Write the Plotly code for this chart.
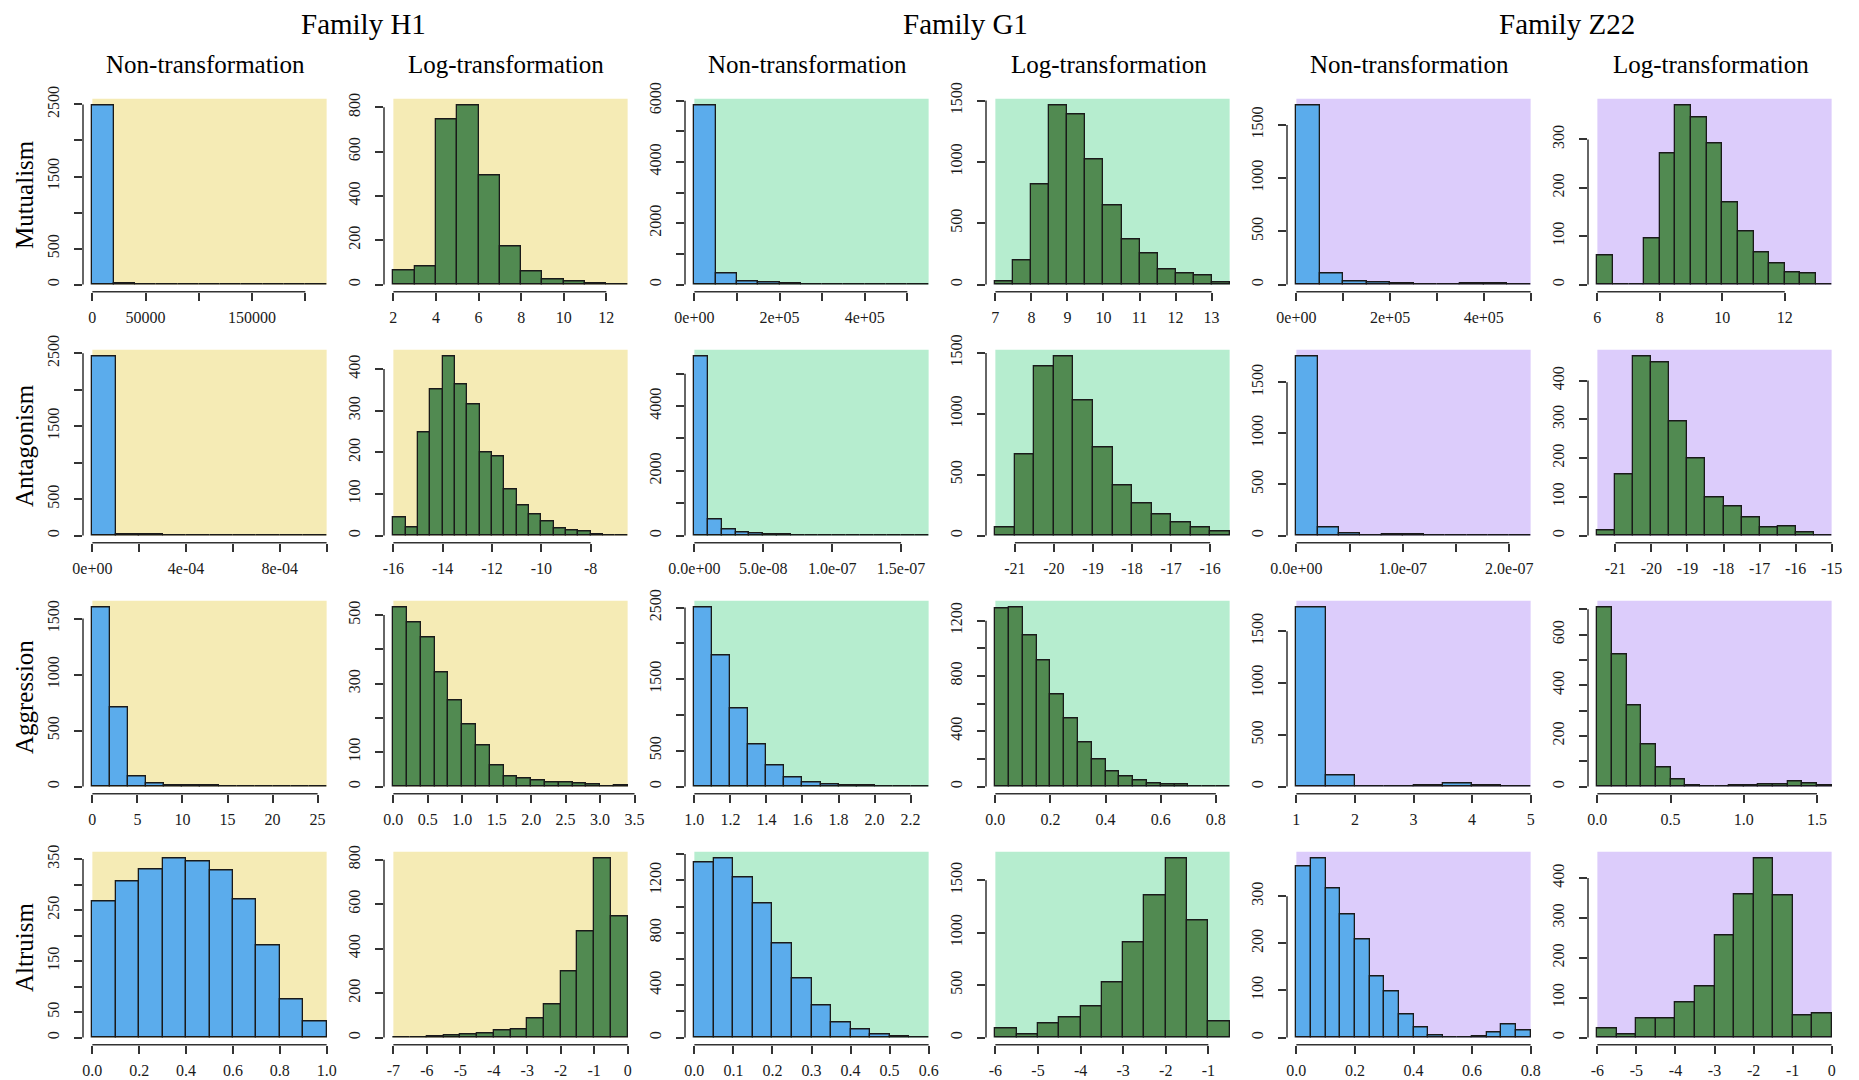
import numpy as np
import plotly.graph_objects as go

FONT = "Liberation Serif"
PAGE_OFFSET = 8            # the page body adds an 8 px margin around the figure
FIG_W, FIG_H = 1859 - PAGE_OFFSET, 1080 - PAGE_OFFSET

FAMILIES = ["Family H1", "Family G1", "Family Z22"]
TRANSFORMS = ["Non-transformation", "Log-transformation"]
INTERACTIONS = ["Mutualism", "Antagonism", "Aggression", "Altruism"]

FAMILY_BG = ["#F5EBB5", "#B6EDCF", "#DCCCFB"]
BAR_COLORS = ["#5BACEC", "#518A51"]   # non-transformed, log-transformed

# ---------------- data: counts, [first break, bin width], ticks ----------------
# Mutualism
mut_h1_non = [2485, 12, 3, 2, 1, 1, 0, 1, 0, 0, 1]
mut_h1_non_bins = [0, 20000]
mut_h1_non_xt = [0, 50000, 100000, 150000, 200000]
mut_h1_non_xl = ["0", "50000", "", "150000", ""]
mut_h1_non_yt = [0, 500, 1000, 1500, 2000, 2500]
mut_h1_non_yl = ["0", "500", "", "1500", "", "2500"]

mut_h1_log = [66, 82, 747, 808, 494, 171, 59, 24, 14, 3, 1]
mut_h1_log_bins = [2, 1]
mut_h1_log_xt = [2, 4, 6, 8, 10, 12]
mut_h1_log_xl = ["2", "4", "6", "8", "10", "12"]
mut_h1_log_yt = [0, 200, 400, 600, 800]
mut_h1_log_yl = ["0", "200", "400", "600", "800"]

mut_g1_non = [5840, 360, 100, 75, 30, 15, 10, 20, 8, 5, 3]
mut_g1_non_bins = [0, 50000]
mut_g1_non_xt = [0, 100000, 200000, 300000, 400000, 500000]
mut_g1_non_xl = ["0e+00", "", "2e+05", "", "4e+05", ""]
mut_g1_non_yt = [0, 1000, 2000, 3000, 4000, 5000, 6000]
mut_g1_non_yl = ["0", "", "2000", "", "4000", "", "6000"]

mut_g1_log = [27, 199, 818, 1459, 1383, 1017, 649, 371, 251, 120, 93, 76, 16]
mut_g1_log_bins = [7, 0.5]
mut_g1_log_xt = [7, 8, 9, 10, 11, 12, 13]
mut_g1_log_xl = ["7", "8", "9", "10", "11", "12", "13"]
mut_g1_log_yt = [0, 500, 1000, 1500]
mut_g1_log_yl = ["0", "500", "1000", "1500"]

mut_z22_non = [1682, 107, 31, 22, 9, 3, 3, 9, 9, 2]
mut_z22_non_bins = [0, 50000]
mut_z22_non_xt = [0, 100000, 200000, 300000, 400000, 500000]
mut_z22_non_xl = ["0e+00", "", "2e+05", "", "4e+05", ""]
mut_z22_non_yt = [0, 500, 1000, 1500]
mut_z22_non_yl = ["0", "500", "1000", "1500"]

mut_z22_log = [61, 0, 0, 95, 272, 370, 346, 292, 169, 109, 66, 44, 26, 24, 1]
mut_z22_log_bins = [6, 0.5]
mut_z22_log_xt = [6, 8, 10, 12]
mut_z22_log_xl = ["6", "8", "10", "12"]
mut_z22_log_yt = [0, 100, 200, 300]
mut_z22_log_yl = ["0", "100", "200", "300"]

# Antagonism
ant_h1_non = [2455, 20, 12, 4, 2, 1, 1, 0, 0, 1]
ant_h1_non_bins = [0, 1e-4]
ant_h1_non_xt = [0, 2e-4, 4e-4, 6e-4, 8e-4, 1e-3]
ant_h1_non_xl = ["0e+00", "", "4e-04", "", "8e-04", ""]
ant_h1_non_yt = [0, 500, 1000, 1500, 2000, 2500]
ant_h1_non_yl = ["0", "500", "", "1500", "", "2500"]

ant_h1_log = [44, 19, 249, 351, 430, 364, 314, 200, 189, 110, 72, 50, 35, 17, 12, 9, 2, 1, 1]
ant_h1_log_bins = [-16, 0.5]
ant_h1_log_xt = [-16, -14, -12, -10, -8]
ant_h1_log_xl = ["-16", "-14", "-12", "-10", "-8"]
ant_h1_log_yt = [0, 100, 200, 300, 400]
ant_h1_log_yl = ["0", "100", "200", "300", "400"]

ant_g1_non = [5530, 500, 175, 85, 55, 45, 25, 18, 12, 8, 15, 6, 5, 4, 3, 2, 2]
ant_g1_non_bins = [0, 1e-8]
ant_g1_non_xt = [0, 5e-8, 1e-7, 1.5e-7]
ant_g1_non_xl = ["0.0e+00", "5.0e-08", "1.0e-07", "1.5e-07"]
ant_g1_non_yt = [0, 1000, 2000, 3000, 4000, 5000]
ant_g1_non_yl = ["0", "", "2000", "", "4000", ""]

ant_g1_log = [63, 668, 1390, 1470, 1110, 728, 412, 264, 173, 104, 69, 33]
ant_g1_log_bins = [-21.5, 0.5]
ant_g1_log_xt = [-21, -20, -19, -18, -17, -16]
ant_g1_log_xl = ["-21", "-20", "-19", "-18", "-17", "-16"]
ant_g1_log_yt = [0, 500, 1000, 1500]
ant_g1_log_yl = ["0", "500", "1000", "1500"]

ant_z22_non = [1752, 75, 23, 6, 12, 15, 5, 2, 2, 1, 1]
ant_z22_non_bins = [0, 2e-8]
ant_z22_non_xt = [0, 5e-8, 1e-7, 1.5e-7, 2e-7]
ant_z22_non_xl = ["0.0e+00", "", "1.0e-07", "", "2.0e-07"]
ant_z22_non_yt = [0, 500, 1000, 1500]
ant_z22_non_yl = ["0", "500", "1000", "1500"]

ant_z22_log = [13, 158, 462, 447, 295, 199, 99, 76, 46, 22, 23, 8, 1]
ant_z22_log_bins = [-21.5, 0.5]
ant_z22_log_xt = [-21, -20, -19, -18, -17, -16, -15]
ant_z22_log_xl = ["-21", "-20", "-19", "-18", "-17", "-16", "-15"]
ant_z22_log_yt = [0, 100, 200, 300, 400]
ant_z22_log_yl = ["0", "100", "200", "300", "400"]

# Aggression
agg_h1_non = [1598, 708, 90, 30, 12, 9, 6, 5, 3, 2, 1, 1, 1]
agg_h1_non_bins = [0, 2]
agg_h1_non_xt = [0, 5, 10, 15, 20, 25]
agg_h1_non_xl = ["0", "5", "10", "15", "20", "25"]
agg_h1_non_yt = [0, 500, 1000, 1500]
agg_h1_non_yl = ["0", "500", "1000", "1500"]

agg_h1_log = [522, 478, 434, 334, 250, 182, 121, 61, 30, 24, 17, 11, 13, 10, 7, 1, 2]
agg_h1_log_bins = [0, 0.2]
agg_h1_log_xt = [0, 0.5, 1.0, 1.5, 2.0, 2.5, 3.0, 3.5]
agg_h1_log_xl = ["0.0", "0.5", "1.0", "1.5", "2.0", "2.5", "3.0", "3.5"]
agg_h1_log_yt = [0, 100, 200, 300, 400, 500]
agg_h1_log_yl = ["0", "100", "", "300", "", "500"]

agg_g1_non = [2500, 1832, 1098, 589, 299, 131, 56, 33, 14, 14, 5, 2, 2]
agg_g1_non_bins = [1.0, 0.1]
agg_g1_non_xt = [1.0, 1.2, 1.4, 1.6, 1.8, 2.0, 2.2]
agg_g1_non_xl = ["1.0", "1.2", "1.4", "1.6", "1.8", "2.0", "2.2"]
agg_g1_non_yt = [0, 500, 1000, 1500, 2000, 2500]
agg_g1_non_yl = ["0", "500", "", "1500", "", "2500"]

agg_g1_log = [1292, 1295, 1091, 915, 669, 493, 319, 198, 109, 70, 46, 24, 17, 12, 2, 2, 1]
agg_g1_log_bins = [0, 0.05]
agg_g1_log_xt = [0, 0.2, 0.4, 0.6, 0.8]
agg_g1_log_xl = ["0.0", "0.2", "0.4", "0.6", "0.8"]
agg_g1_log_yt = [0, 200, 400, 600, 800, 1000, 1200]
agg_g1_log_yl = ["0", "", "400", "", "800", "", "1200"]

agg_z22_non = [1730, 103, 1, 6, 10, 26, 13, 3]
agg_z22_non_bins = [1, 0.5]
agg_z22_non_xt = [1, 2, 3, 4, 5]
agg_z22_non_xl = ["1", "2", "3", "4", "5"]
agg_z22_non_yt = [0, 500, 1000, 1500]
agg_z22_non_yl = ["0", "500", "1000", "1500"]

agg_z22_log = [707, 521, 322, 168, 74, 28, 3, 0, 1, 3, 3, 7, 9, 19, 13, 3]
agg_z22_log_bins = [0, 0.1]
agg_z22_log_xt = [0, 0.5, 1.0, 1.5]
agg_z22_log_xl = ["0.0", "0.5", "1.0", "1.5"]
agg_z22_log_yt = [0, 100, 200, 300, 400, 500, 600, 700]
agg_z22_log_yl = ["0", "", "200", "", "400", "", "600", ""]

# Altruism
alt_h1_non = [267, 307, 330, 351, 345, 328, 270, 180, 75, 31]
alt_h1_non_bins = [0, 0.1]
alt_h1_non_xt = [0, 0.2, 0.4, 0.6, 0.8, 1.0]
alt_h1_non_xl = ["0.0", "0.2", "0.4", "0.6", "0.8", "1.0"]
alt_h1_non_yt = [0, 50, 100, 150, 200, 250, 300, 350]
alt_h1_non_yl = ["0", "50", "", "150", "", "250", "", "350"]

alt_h1_log = [1, 1, 6, 8, 14, 18, 33, 38, 86, 149, 296, 478, 805, 544]
alt_h1_log_bins = [-7, 0.5]
alt_h1_log_xt = [-7, -6, -5, -4, -3, -2, -1, 0]
alt_h1_log_xl = ["-7", "-6", "-5", "-4", "-3", "-2", "-1", "0"]
alt_h1_log_yt = [0, 200, 400, 600, 800]
alt_h1_log_yl = ["0", "200", "400", "600", "800"]

alt_g1_non = [1333, 1366, 1225, 1026, 722, 449, 243, 112, 59, 26, 8, 3]
alt_g1_non_bins = [0, 0.05]
alt_g1_non_xt = [0, 0.1, 0.2, 0.3, 0.4, 0.5, 0.6]
alt_g1_non_xl = ["0.0", "0.1", "0.2", "0.3", "0.4", "0.5", "0.6"]
alt_g1_non_yt = [0, 200, 400, 600, 800, 1000, 1200, 1400]
alt_g1_non_yl = ["0", "", "400", "", "800", "", "1200", ""]

alt_g1_log = [83, 32, 137, 195, 300, 530, 910, 1357, 1708, 1117, 153]
alt_g1_log_bins = [-6, 0.5]
alt_g1_log_xt = [-6, -5, -4, -3, -2, -1]
alt_g1_log_xl = ["-6", "-5", "-4", "-3", "-2", "-1"]
alt_g1_log_yt = [0, 500, 1000, 1500]
alt_g1_log_yl = ["0", "500", "1000", "1500"]

alt_z22_non = [363, 380, 316, 261, 208, 129, 97, 49, 21, 4, 1, 1, 3, 10, 28, 16]
alt_z22_non_bins = [0, 0.05]
alt_z22_non_xt = [0, 0.2, 0.4, 0.6, 0.8]
alt_z22_non_xl = ["0.0", "0.2", "0.4", "0.6", "0.8"]
alt_z22_non_yt = [0, 100, 200, 300]
alt_z22_non_yl = ["0", "100", "200", "300"]

alt_z22_log = [22, 8, 49, 48, 88, 129, 255, 358, 449, 356, 56, 60]
alt_z22_log_bins = [-6, 0.5]
alt_z22_log_xt = [-6, -5, -4, -3, -2, -1, 0]
alt_z22_log_xl = ["-6", "-5", "-4", "-3", "-2", "-1", "0"]
alt_z22_log_yt = [0, 100, 200, 300, 400]
alt_z22_log_yl = ["0", "100", "200", "300", "400"]

PANELS = [
    [(mut_h1_non, mut_h1_non_bins, mut_h1_non_xt, mut_h1_non_xl, mut_h1_non_yt, mut_h1_non_yl),
     (mut_h1_log, mut_h1_log_bins, mut_h1_log_xt, mut_h1_log_xl, mut_h1_log_yt, mut_h1_log_yl),
     (mut_g1_non, mut_g1_non_bins, mut_g1_non_xt, mut_g1_non_xl, mut_g1_non_yt, mut_g1_non_yl),
     (mut_g1_log, mut_g1_log_bins, mut_g1_log_xt, mut_g1_log_xl, mut_g1_log_yt, mut_g1_log_yl),
     (mut_z22_non, mut_z22_non_bins, mut_z22_non_xt, mut_z22_non_xl, mut_z22_non_yt, mut_z22_non_yl),
     (mut_z22_log, mut_z22_log_bins, mut_z22_log_xt, mut_z22_log_xl, mut_z22_log_yt, mut_z22_log_yl)],
    [(ant_h1_non, ant_h1_non_bins, ant_h1_non_xt, ant_h1_non_xl, ant_h1_non_yt, ant_h1_non_yl),
     (ant_h1_log, ant_h1_log_bins, ant_h1_log_xt, ant_h1_log_xl, ant_h1_log_yt, ant_h1_log_yl),
     (ant_g1_non, ant_g1_non_bins, ant_g1_non_xt, ant_g1_non_xl, ant_g1_non_yt, ant_g1_non_yl),
     (ant_g1_log, ant_g1_log_bins, ant_g1_log_xt, ant_g1_log_xl, ant_g1_log_yt, ant_g1_log_yl),
     (ant_z22_non, ant_z22_non_bins, ant_z22_non_xt, ant_z22_non_xl, ant_z22_non_yt, ant_z22_non_yl),
     (ant_z22_log, ant_z22_log_bins, ant_z22_log_xt, ant_z22_log_xl, ant_z22_log_yt, ant_z22_log_yl)],
    [(agg_h1_non, agg_h1_non_bins, agg_h1_non_xt, agg_h1_non_xl, agg_h1_non_yt, agg_h1_non_yl),
     (agg_h1_log, agg_h1_log_bins, agg_h1_log_xt, agg_h1_log_xl, agg_h1_log_yt, agg_h1_log_yl),
     (agg_g1_non, agg_g1_non_bins, agg_g1_non_xt, agg_g1_non_xl, agg_g1_non_yt, agg_g1_non_yl),
     (agg_g1_log, agg_g1_log_bins, agg_g1_log_xt, agg_g1_log_xl, agg_g1_log_yt, agg_g1_log_yl),
     (agg_z22_non, agg_z22_non_bins, agg_z22_non_xt, agg_z22_non_xl, agg_z22_non_yt, agg_z22_non_yl),
     (agg_z22_log, agg_z22_log_bins, agg_z22_log_xt, agg_z22_log_xl, agg_z22_log_yt, agg_z22_log_yl)],
    [(alt_h1_non, alt_h1_non_bins, alt_h1_non_xt, alt_h1_non_xl, alt_h1_non_yt, alt_h1_non_yl),
     (alt_h1_log, alt_h1_log_bins, alt_h1_log_xt, alt_h1_log_xl, alt_h1_log_yt, alt_h1_log_yl),
     (alt_g1_non, alt_g1_non_bins, alt_g1_non_xt, alt_g1_non_xl, alt_g1_non_yt, alt_g1_non_yl),
     (alt_g1_log, alt_g1_log_bins, alt_g1_log_xt, alt_g1_log_xl, alt_g1_log_yt, alt_g1_log_yl),
     (alt_z22_non, alt_z22_non_bins, alt_z22_non_xt, alt_z22_non_xl, alt_z22_non_yt, alt_z22_non_yl),
     (alt_z22_log, alt_z22_log_bins, alt_z22_log_xt, alt_z22_log_xl, alt_z22_log_yt, alt_z22_log_yl)],
]

# ---------------- layout geometry (screen pixels) ----------------
COL_X0 = 83.0
COL_STEP = 301.0
PANEL_W = 253.0
ROW_Y0 = 98.4
ROW_STEP = 251.0
PANEL_H = 193.3


def px_x(v):
    return (v - PAGE_OFFSET) / FIG_W


def px_y(v):
    return 1 - (v - PAGE_OFFSET) / FIG_H


AXIS_COLOR = "#333333"
TICK_FONT = dict(family=FONT, size=16, color="#1a1a1a")

fig = go.Figure()
shapes = []
layout_axes = {}

k = 0
for r, row in enumerate(PANELS):
    for c, (counts, bins, xt, xl, yt, yl) in enumerate(row):
        k += 1
        sfx = "" if k == 1 else str(k)
        counts = np.asarray(counts, dtype=float)
        start, width = bins
        n = len(counts)
        edges = start + width * np.arange(n + 1)
        centers = (edges[:-1] + edges[1:]) / 2
        xmin, xmax = edges[0], edges[-1]
        span = xmax - xmin
        ymax = counts.max()

        fam = c // 2
        is_log = c % 2
        fig.add_trace(go.Bar(
            x=centers, y=counts, width=[width] * n,
            xaxis="x" + sfx, yaxis="y" + sfx,
            marker=dict(color=BAR_COLORS[is_log], line=dict(color="#1a1a1a", width=1.3)),
            showlegend=False, hoverinfo="x+y",
        ))

        x0p = COL_X0 + COL_STEP * c
        x1p = x0p + PANEL_W
        y0p = ROW_Y0 + ROW_STEP * r
        y1p = y0p + PANEL_H

        layout_axes["xaxis" + sfx] = dict(
            domain=[px_x(x0p), px_x(x1p)], anchor="y" + sfx, automargin=False,
            range=[xmin - 0.04 * span, xmax + 0.04 * span],
            showgrid=False, zeroline=False, showline=False,
            ticks="outside", ticklen=8, tickwidth=1.5, tickcolor=AXIS_COLOR,
            tickvals=xt, ticktext=xl, tickfont=TICK_FONT, ticklabelstandoff=3,
            fixedrange=True,
        )
        layout_axes["yaxis" + sfx] = dict(
            domain=[px_y(y1p), px_y(y0p)], anchor="x" + sfx, automargin=False,
            range=[-0.04 * ymax, 1.04 * ymax],
            showgrid=False, zeroline=False, showline=False,
            ticks="outside", ticklen=8, tickwidth=1.5, tickcolor=AXIS_COLOR,
            tickvals=yt, ticktext=yl, tickfont=TICK_FONT, tickangle=-90,
            ticklabelstandoff=9, fixedrange=True,
        )

        # panel background (covers the break range up to the top of the plot region)
        shapes.append(dict(type="rect", xref="x" + sfx, yref="y" + sfx,
                           x0=xmin, x1=xmax, y0=0, y1=1.04 * ymax,
                           fillcolor=FAMILY_BG[fam], line=dict(width=0), layer="below"))
        # detached axis lines spanning the tick range (R style)
        shapes.append(dict(type="line", xref="x" + sfx, yref="y" + sfx + " domain",
                           x0=xt[0], x1=xt[-1], y0=0, y1=0,
                           line=dict(color=AXIS_COLOR, width=1.5)))
        shapes.append(dict(type="line", xref="x" + sfx + " domain", yref="y" + sfx,
                           x0=0, x1=0, y0=yt[0], y1=yt[-1],
                           line=dict(color=AXIS_COLOR, width=1.5)))

annotations = []
# family titles
for f, name in enumerate(FAMILIES):
    cx = COL_X0 + COL_STEP * (2 * f) + (COL_STEP + PANEL_W) / 2 + 3
    annotations.append(dict(text=name, x=px_x(cx), y=px_y(24), xref="paper", yref="paper",
                            showarrow=False, xanchor="center", yanchor="middle", borderpad=0,
                            font=dict(family=FONT, size=29, color="#000000")))
# transformation subtitles
for c in range(6):
    cx = COL_X0 + COL_STEP * c + PANEL_W / 2 - 4
    annotations.append(dict(text=TRANSFORMS[c % 2], x=px_x(cx), y=px_y(64),
                            xref="paper", yref="paper", showarrow=False,
                            xanchor="center", yanchor="middle",
                            font=dict(family=FONT, size=25, color="#000000")))
# row labels
for r, name in enumerate(INTERACTIONS):
    cy = ROW_Y0 + ROW_STEP * r + PANEL_H / 2
    annotations.append(dict(text=name, x=px_x(24), y=px_y(cy), xref="paper", yref="paper",
                            showarrow=False, xanchor="center", yanchor="middle", textangle=-90,
                            font=dict(family=FONT, size=25, color="#000000")))

fig.update_layout(
    width=FIG_W, height=FIG_H,
    margin=dict(l=0, r=0, t=0, b=0, autoexpand=False),
    paper_bgcolor="white", plot_bgcolor="rgba(0,0,0,0)",
    shapes=shapes, annotations=annotations,
    bargap=0, showlegend=False,
    font=dict(family=FONT),
    **layout_axes,
)

fig.write_html("out.html")
